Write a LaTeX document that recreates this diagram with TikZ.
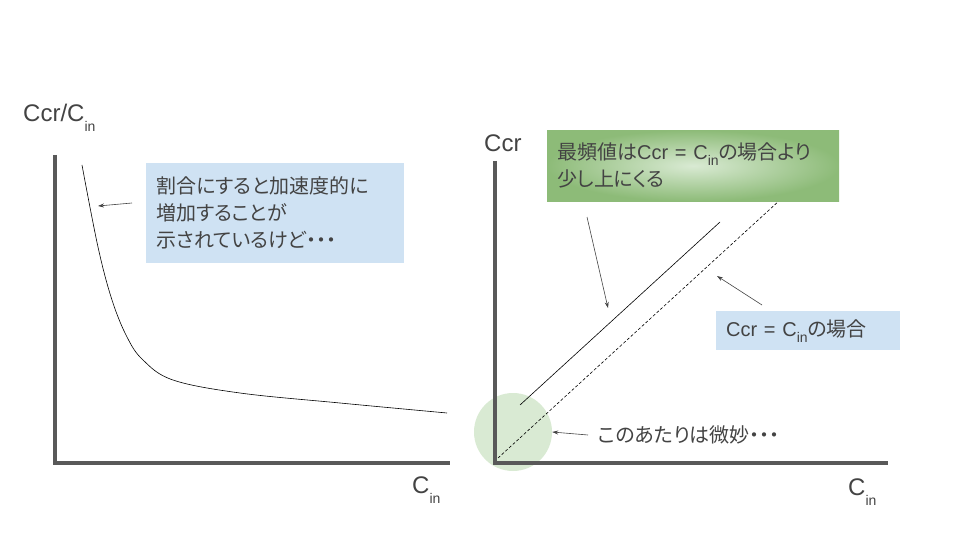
\documentclass[tikz,border=0pt]{standalone}
\usepackage{fontspec}
\setmainfont{Liberation Sans}
\newfontfamily\jpfont[RawFeature=+palt]{Noto Sans CJK JP}
\usetikzlibrary{arrows.meta, positioning}
\definecolor{axisgray}{HTML}{595959}
\definecolor{textgray}{HTML}{434343}
\definecolor{noteblue}{HTML}{CFE2F3}
\definecolor{notegreen}{HTML}{D9EAD3}
\definecolor{deepgreen}{HTML}{8DBB78}
\newcommand{\insub}[1][-10pt]{\raisebox{#1}{\rmfamily\fontsize{14}{14}\selectfont in}}
\newcommand{\lat}[1]{{\rmfamily #1}}

\begin{document}
\begin{tikzpicture}[x=1pt,y=-1pt]
	\tikzset{axis/.style={axisgray, line width=4pt},
		lbl/.style={text=textgray, font=\fontsize{24}{28}\selectfont, inner sep=0pt, anchor=base west},
		note/.style={text=textgray, font=\jpfont\fontsize{20}{27}\selectfont, align=left, inner xsep=10pt, inner ysep=0pt},
		pointer/.style={textgray, line width=0.6pt, -{Stealth[length=6pt,width=4pt]}}}
	
	\useasboundingbox (0,0) rectangle (960,540);
	
	% left graph
	\draw[axis] (55,155) -- (55,463) -- (450,463);
	\draw[black, line width=0.6pt] plot[smooth, tension=0.6] coordinates {(82,165) (98,247) (112,300) (127,337) (143,360) (173,380) (240,393) (340,403) (447,413)};
	\node[lbl] (ratiolabel) at (23,122) {Ccr/C\insub};
	\node[lbl] (cinleft) at (412,493) {C\insub};
	
	\node[note, fill=noteblue, anchor=north west, minimum width=258, minimum height=100, text width=238] (ratiobox) at (146,163) {割合にすると加速度的に\\増加することが\\示されているけど・・・};
	\coordinate (ratiotail) at (132,203);
	\coordinate (ratiohead) at (98,206);
	\draw[pointer] (ratiotail) -- (ratiohead);
	
	% right graph
	\node[circle, fill=notegreen, minimum size=78, inner sep=0pt] (fuzzy) at (513,432) {};
	\draw[axis] (495,161) -- (495,463) -- (888,463);
	\draw[black, line width=0.6pt] (520,405) -- (720,222);
	\draw[black, line width=0.6pt, dash pattern=on 3pt off 2pt] (498,458) -- (780,200);
	\node[lbl] (ccrlabel) at (484,152) {Ccr};
	\node[lbl] (cinright) at (848,495) {C\insub};
	
	\node[note, shading=radial, inner color=notegreen, outer color=deepgreen, anchor=north west, minimum width=292, minimum height=71, text width=272] (modebox) at (547,130) {最頻値は\lat{Ccr = C}\insub[-6pt]の場合より\\少し上にくる};
	\coordinate (modetail) at (587,217);
	\coordinate (modehead) at (608,308);
	\draw[pointer] (modetail) -- (modehead);
	
	\node[note, fill=noteblue, anchor=north west, minimum width=184, minimum height=39, text width=164] (equalbox) at (716,311) {\lat{Ccr = C}\insub[-6pt]の場合};
	\coordinate (equaltail) at (762,305);
	\coordinate (equalhead) at (717,276);
	\draw[pointer] (equaltail) -- (equalhead);
	
	\node[note, anchor=west, inner xsep=0pt] (fuzzynote) at (598,435) {このあたりは微妙・・・};
	\draw[pointer] ([xshift=-10]fuzzynote.west) -- (fuzzy.east);
	
\end{tikzpicture}
\end{document}
